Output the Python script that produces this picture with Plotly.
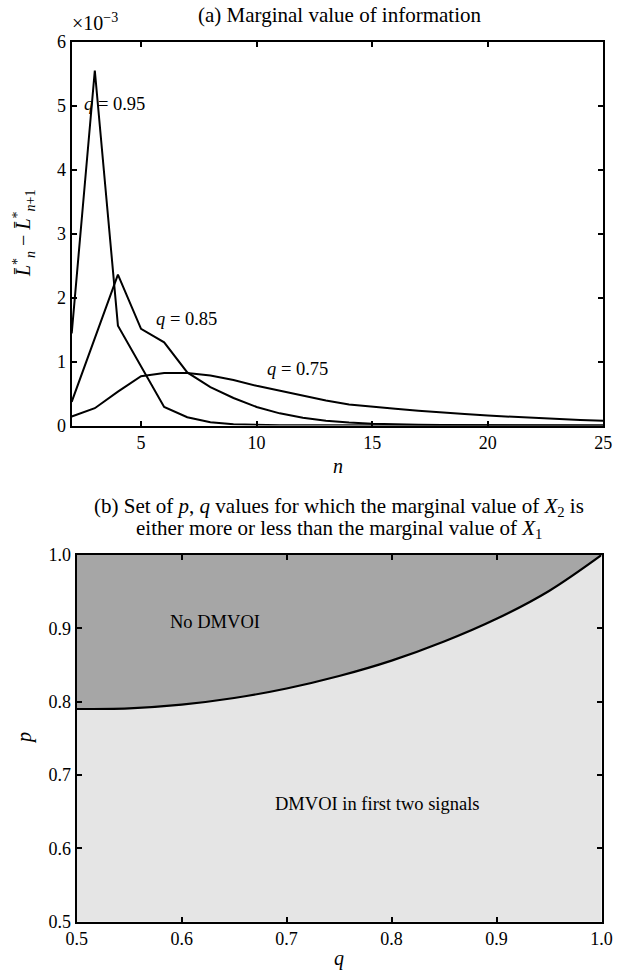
import plotly.graph_objects as go

# ---------------- data ----------------
# (a) marginal value of information, values in units of 1e-3
n_vals = list(range(2, 26))
mv_q95 = [1.44, 5.55, 1.56, 0.92, 0.29, 0.13, 0.05, 0.02, 0.01, 0.005, 0.003, 0.002,
          0.001, 0.001, 0.0, 0.0, 0.0, 0.0, 0.0, 0.0, 0.0, 0.0, 0.0, 0.0]
mv_q85 = [0.37, 1.36, 2.36, 1.51, 1.30, 0.83, 0.60, 0.43, 0.29, 0.19, 0.12, 0.075,
          0.045, 0.028, 0.017, 0.011, 0.007, 0.005, 0.003, 0.002, 0.002, 0.001, 0.001, 0.001]
mv_q75 = [0.14, 0.27, 0.53, 0.77, 0.82, 0.82, 0.78, 0.71, 0.62, 0.54, 0.46, 0.39,
          0.33, 0.29, 0.26, 0.23, 0.20, 0.18, 0.155, 0.135, 0.115, 0.10, 0.085, 0.075]

# (b) boundary p(q) between regions
q_bound = [0.50, 0.55, 0.60, 0.65, 0.70, 0.75, 0.80, 0.85, 0.90, 0.95, 1.00]
p_bound = [0.790, 0.791, 0.796, 0.805, 0.818, 0.835, 0.856, 0.882, 0.913, 0.951, 1.000]

P_TOP = 1.0
x_ticks_a = [5, 10, 15, 20, 25]
y_ticks_a = [0, 1, 2, 3, 4, 5, 6]
ticks_b = [0.5, 0.6, 0.7, 0.8, 0.9, 1.0]

W, H = 623, 975
FONT = "Liberation Serif, Times New Roman, serif"
DARK = "#a6a6a6"
LIGHT = "#e5e5e5"

def px_x(v):
    return v / W

def px_y(v):
    return 1 - v / H

fig = go.Figure()

line = dict(color="black", width=2)
for ys in (mv_q95, mv_q85, mv_q75):
    fig.add_trace(go.Scatter(x=n_vals, y=ys, mode="lines", line=line,
                             xaxis="x", yaxis="y", showlegend=False, hoverinfo="skip"))

# bottom panel: dark region above boundary
fig.add_trace(go.Scatter(x=q_bound, y=[P_TOP] * len(q_bound), mode="lines",
                         line=dict(width=0), xaxis="x2", yaxis="y2",
                         showlegend=False, hoverinfo="skip"))
fig.add_trace(go.Scatter(x=q_bound, y=p_bound, mode="lines", fill="tonexty",
                         fillcolor=DARK, line=dict(color="black", width=2.2, shape="spline"),
                         xaxis="x2", yaxis="y2", showlegend=False, hoverinfo="skip"))

axis_common = dict(showline=True, linecolor="black", linewidth=2, mirror="ticks",
                   ticks="inside", ticklen=5, tickwidth=1.5, tickcolor="black",
                   showgrid=False, zeroline=False, automargin=False,
                   tickfont=dict(family=FONT, size=18, color="black"))

fig.update_layout(
    template="none",
    width=W, height=H,
    margin=dict(l=0, r=0, t=0, b=0, pad=0, autoexpand=False),
    paper_bgcolor="white", plot_bgcolor="rgba(0,0,0,0)",
    xaxis=dict(domain=[px_x(71.7), px_x(603.3)], range=[2, 25], tickvals=x_ticks_a,
               anchor="y", **axis_common),
    yaxis=dict(domain=[px_y(425.5), px_y(41.7)], range=[0, 6], tickvals=y_ticks_a,
               anchor="x", **axis_common),
    xaxis2=dict(domain=[px_x(76.7), px_x(601.5)], range=[0.5, 1.0], tickvals=ticks_b,
                tickformat=".1f", anchor="y2", **axis_common),
    yaxis2=dict(domain=[px_y(921.7), px_y(555)], range=[0.5, 1.0], tickvals=ticks_b,
                tickformat=".1f", anchor="x2", **axis_common),
    shapes=[dict(type="rect", xref="x2 domain", yref="y2 domain", x0=0, x1=1, y0=0, y1=1,
                 fillcolor=LIGHT, line=dict(width=0), layer="below")],
)

def ann(text, x, y, size=18.5, xref="paper", yref="paper", angle=0, xanchor="center", yanchor="middle"):
    fig.add_annotation(text=text, x=x, y=y, xref=xref, yref=yref, showarrow=False,
                       textangle=angle, xanchor=xanchor, yanchor=yanchor, borderpad=0,
                       font=dict(family=FONT, size=size, color="black"))

# panel (a) texts
ann("(a) Marginal value of information", px_x(340), px_y(15), size=21)
ann("×10<sup>−3</sup>", px_x(71), px_y(22), size=20, xanchor="left")
ann("<i>q</i> = 0.95", 3.87, 5.02, xref="x", yref="y")
ann("<i>q</i> = 0.85", 6.95, 1.67, xref="x", yref="y")
ann("<i>q</i> = 0.75", 11.78, 0.88, xref="x", yref="y")
ann("<i>n</i>", px_x(337.5), px_y(466), size=20)
ann("<i>L̄</i><sup>*</sup><sub><i>n</i></sub> − <i>L̄</i><sup>*</sup><sub><i>n</i>+1</sub>",
    px_x(24), px_y(234), size=20, angle=-90)

# panel (b) texts
ann("(b) Set of <i>p</i>, <i>q</i> values for which the marginal value of <i>X</i><sub>2</sub> is",
    px_x(339), px_y(507), size=21)
ann("either more or less than the marginal value of <i>X</i><sub>1</sub>",
    px_x(339), px_y(529), size=21)
ann("No DMVOI", 0.632, 0.909, xref="x2", yref="y2")
ann("DMVOI in first two signals", 0.787, 0.661, xref="x2", yref="y2")
ann("<i>q</i>", px_x(339), px_y(958), size=20)
ann("<i>p</i>", px_x(24), px_y(738), size=20, angle=-90)

fig.write_html("out.html",
               config={"displayModeBar": False},
               post_script="document.body.style.margin='0';"
                           "document.body.style.overflow='hidden';")
